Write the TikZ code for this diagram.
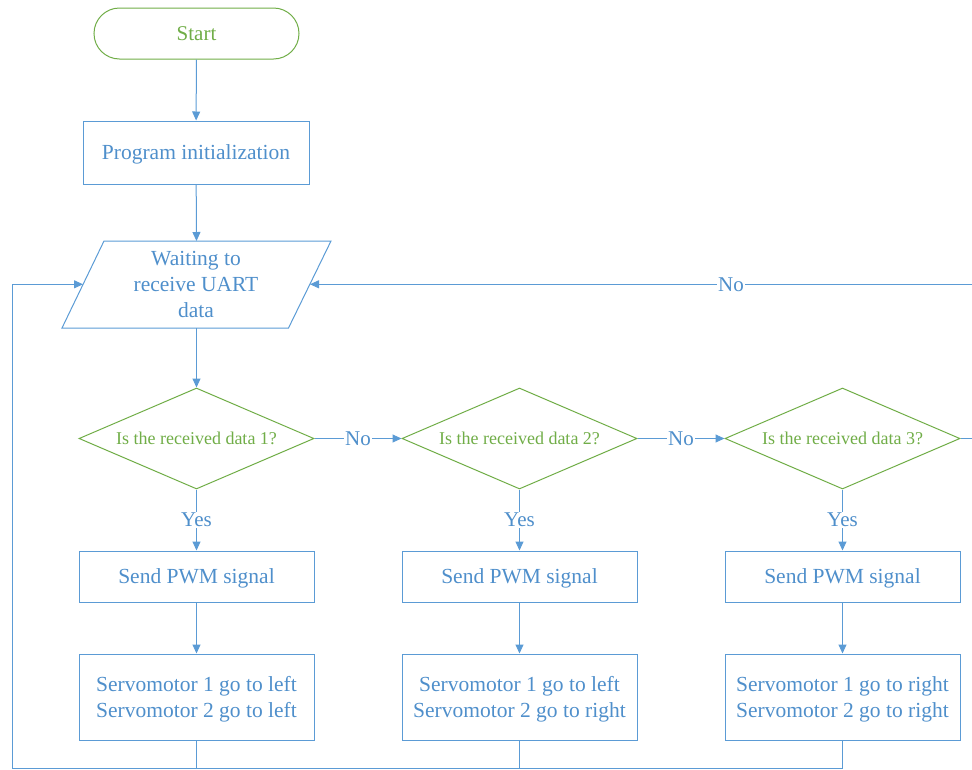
\documentclass[tikz,border=0pt]{standalone}
\usepackage{fontspec}
\setmainfont{Liberation Serif}
\usetikzlibrary{shapes.geometric,arrows.meta}
\definecolor{lblue}{HTML}{5B9BD5}
\definecolor{tblue}{HTML}{4F8FCB}
\definecolor{lgreen}{HTML}{70AD47}
\tikzset{
  box/.style={draw=lblue, line width=1pt, rectangle, inner sep=0pt, text=tblue, font=\fontsize{21.5}{26}\selectfont, align=center, text depth=0pt},
  term/.style={draw=lgreen, line width=1pt, rectangle, rounded corners=25.5pt, inner sep=0pt, text=lgreen, font=\fontsize{21}{24}\selectfont, minimum width=205pt, minimum height=51pt, text depth=0pt},
  dec/.style={draw=lgreen, line width=1pt, diamond, aspect=2.33, inner sep=0pt, text=lgreen, font=\fontsize{18}{21}\selectfont, minimum width=235pt, minimum height=101pt},
  conn/.style={draw=lblue, line width=1pt},
  arr/.style={conn, -{Triangle[length=9pt,width=8pt]}},
  lbl/.style={fill=white, text=tblue, inner sep=1pt, font=\fontsize{21}{24}\selectfont},
}
\begin{document}
\begin{tikzpicture}[x=1pt,y=-1pt]
\useasboundingbox (0,0) rectangle (972,769);
\node[term] (start) at (196.5,33.5) {Start};
\node[box, minimum width=226pt, minimum height=63pt] (init) at (196,152.5) {Program initialization};
% parallelogram
\coordinate (pTL) at (104,241);
\coordinate (pTR) at (331,241);
\coordinate (pBR) at (288.5,328);
\coordinate (pBL) at (62,328);
\draw[conn] (pTL) -- (pTR) -- (pBR) -- (pBL) -- cycle;
\node[text=tblue, font=\fontsize{21.5}{26}\selectfont, align=center, inner sep=0pt, text depth=0pt] (wait) at (196,284.5) {Waiting to\\receive UART\\data};
\coordinate (wtop) at (196.5,241);
\coordinate (wbot) at (196.5,328);
\coordinate (wleft) at (83,284.3);
\coordinate (wright) at (310,284.3);

\foreach \i/\x in {1/196.5,2/519.5,3/842.5}{
  \node[dec] (d\i) at (\x,438.5) {Is the received data \i?};
  \node[box, minimum width=235pt, minimum height=51pt] (p\i) at (\x,576.5) {Send PWM signal};
  \coordinate (b\i) at (\x,768);
}
\node[box, minimum width=235pt, minimum height=86pt] (s1) at (196.5,697) {Servomotor 1 go to left\\Servomotor 2 go to left};
\node[box, minimum width=235pt, minimum height=86pt] (s2) at (519.5,697) {Servomotor 1 go to left\\Servomotor 2 go to right};
\node[box, minimum width=235pt, minimum height=86pt] (s3) at (842.5,697) {Servomotor 1 go to right\\Servomotor 2 go to right};

\coordinate (rEdge) at (972,438.5);
\coordinate (rTop) at (972,284.3);
\coordinate (lBot) at (12,768);
\coordinate (lTop) at (12,284.3);

\draw[arr] (start) -- (init);
\draw[arr] (init) -- (wtop);
\draw[arr] (wbot) -- (d1.north);
\foreach \i in {1,2,3}{
  \draw[arr] (d\i.south) -- node[lbl]{Yes} (p\i.north);
  \draw[arr] (p\i) -- (s\i);
  \draw[conn] (s\i.south) -- (b\i);
}
\draw[arr] (d1.east) -- node[lbl]{No} (d2.west);
\draw[arr] (d2.east) -- node[lbl]{No} (d3.west);
\draw[conn] (d3.east) -- (rEdge);
\draw[arr] (rTop) -- node[lbl, pos=0.364]{No} (wright);
\draw[arr] (b3) -- (lBot) -- (lTop) -- (wleft);
\end{tikzpicture}
\end{document}
